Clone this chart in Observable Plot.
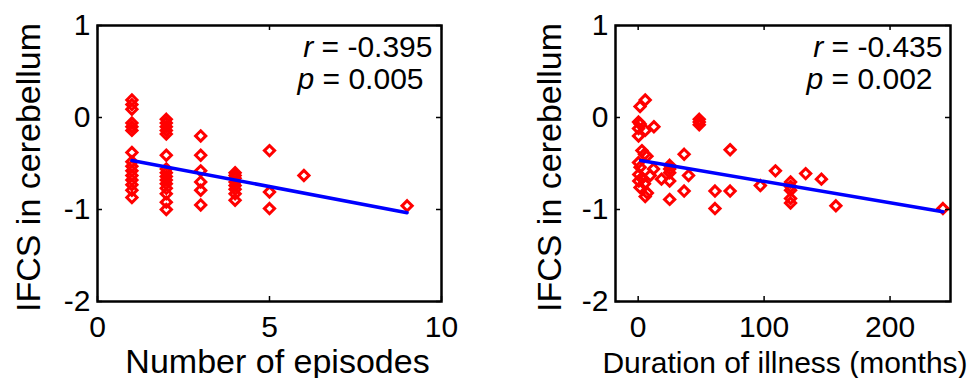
<!DOCTYPE html>
<html>
<head>
<meta charset="utf-8">
<script src="https://cdn.jsdelivr.net/npm/d3@7"></script>
<script src="https://cdn.jsdelivr.net/npm/@observablehq/plot@0.6"></script>
<style>
  html, body { margin: 0; padding: 0; background: #ffffff; }
  #wrap { position: relative; width: 974px; height: 378px; display: flex; overflow: hidden; }
  #wrap svg { display: block; flex: none; }
</style>
</head>
<body>
<div id="wrap"></div>
<script>
// ---- Panel A: number of episodes ----
const episodes = [
  1,1,1,1,1,1,1,1,1,1,1,1,1,1,1,
  2,2,2,2,2,2,2,2,2,2,2,2,2,2,2,
  3,3,3,3,3,3,
  4,4,4,4,4,4,4,4,
  5,5,5,
  6,
  9
];
const ifcsEpisodes = [
  0.19,0.14,0.09,-0.06,-0.10,-0.14,-0.38,-0.48,-0.53,-0.58,-0.63,-0.68,-0.73,-0.79,-0.87,
  -0.02,-0.06,-0.10,-0.14,-0.18,-0.41,-0.56,-0.60,-0.64,-0.68,-0.72,-0.77,-0.83,-0.92,-1.00,
  -0.20,-0.41,-0.58,-0.70,-0.79,-0.95,
  -0.60,-0.63,-0.66,-0.70,-0.74,-0.78,-0.83,-0.90,
  -0.36,-0.81,-0.99,
  -0.63,
  -0.96
];
const fitEpisodesX = [1, 9];
const fitEpisodesY = [-0.467, -1.035];

// ---- Panel B: duration of illness ----
const duration = [
  5.6,1.5,0.3,1.6,0.3,0.3,5.6,12.5,48.5,48.5,48.5,3,5,7,36.5,
  0.3,1.5,12.2,0.5,9.6,3,0.5,5,1.5,5.6,7.3,18.5,25,25,25,25,25,
  36.5,40,61,61,73,73,97,109,121,121,121,121,121,133,145.5,157,242
];
const ifcsDuration = [
  0.19,0.12,-0.05,-0.07,-0.12,-0.20,-0.14,-0.10,-0.02,-0.05,-0.08,-0.36,-0.40,-0.42,-0.40,
  -0.49,-0.54,-0.56,-0.62,-0.63,-0.66,-0.69,-0.72,-0.76,-0.86,-0.82,-0.67,-0.52,-0.56,-0.60,-0.69,-0.89,
  -0.80,-0.63,-0.80,-0.99,-0.35,-0.80,-0.74,-0.58,-0.70,-0.75,-0.79,-0.88,-0.93,-0.61,-0.67,-0.96,-0.99
];
const fitDurationX = [2, 242];
const fitDurationY = [-0.467, -1.025];

// ---- Axes / text ----
const yTicks = [-2, -1, 0, 1];
const episodesTicks = [0, 5, 10];
const durationTicks = [0, 100, 200];
const episodesDomain = [0, 10];
const durationDomain = [-18, 248];
const yDomain = [-2, 1];
const rValues = ["-0.395", "-0.435"];
const pValues = ["0.005", "0.002"];
const xLabels = ["Number of episodes", "Duration of illness (months)"];
const yLabel = "IFCS in cerebellum";

function panel(o) {
  const W = 487, H = 378, mt = 25, mb = 77;
  const ph = H - mt - mb, pw = W - o.marginLeft - o.marginRight;
  const pts = o.xs.map((x, i) => ({x, y: o.ys[i]}));
  const fit = o.fx.map((x, i) => ({x, y: o.fy[i]}));
  const fmt = d => String(d);
  const svg = Plot.plot({
    width: W, height: H,
    marginTop: mt, marginBottom: mb, marginLeft: o.marginLeft, marginRight: o.marginRight,
    x: {domain: o.xDomain},
    y: {domain: yDomain},
    style: {fontFamily: "'Liberation Sans', Arial, Helvetica, sans-serif", background: "#ffffff", color: "#000000", overflow: "visible"},
    marks: [
      Plot.dot(pts, {x: "x", y: "y", symbol: "diamond2", r: 4.6, stroke: "#ff0000", strokeWidth: 3, fill: "none"}),
      Plot.line(fit, {x: "x", y: "y", stroke: "#0000ff", strokeWidth: 3.5}),
      Plot.frame({stroke: "#000000", strokeWidth: 2.5}),
      Plot.tickX(o.xTicks, {x: d => d, insetTop: ph - 5, stroke: "#000000", strokeWidth: 1.5}),
      Plot.tickX(o.xTicks, {x: d => d, insetBottom: ph - 5, stroke: "#000000", strokeWidth: 1.5}),
      Plot.tickY(yTicks, {y: d => d, insetRight: pw - 5, stroke: "#000000", strokeWidth: 1.5}),
      Plot.tickY(yTicks, {y: d => d, insetLeft: pw - 5, stroke: "#000000", strokeWidth: 1.5}),
      Plot.axisX(o.xTicks, {tickSize: 0, tickPadding: 14, fontSize: 30, label: null, tickFormat: fmt}),
      Plot.axisY(yTicks, {tickSize: 0, tickPadding: 7, fontSize: 30, label: null, tickFormat: fmt}),
      Plot.text([o.r], {text: d => `r = ${d}`, frameAnchor: "top-right", textAnchor: "end", lineAnchor: "bottom", dx: o.rdx, dy: 31, fontSize: 30}),
      Plot.text([o.p], {text: d => `p = ${d}`, frameAnchor: "top-right", textAnchor: "end", lineAnchor: "bottom", dx: o.pdx, dy: 63, fontSize: 30}),
      Plot.text([o.xLabel], {text: d => d, frameAnchor: "bottom", lineAnchor: "bottom", dx: o.xLabelDx, dy: 71, fontSize: o.xLabelSize}),
      Plot.text([yLabel], {text: d => d, frameAnchor: "left", rotate: -90, textAnchor: "middle", lineAnchor: "middle", dx: o.yLabelDx, dy: 4, fontSize: 34})
    ]
  });
  // italicize the statistic symbols r and p
  svg.querySelectorAll("text").forEach(t => {
    const m = t.textContent.match(/^([rp]) (= .*)$/);
    if (m && t.children.length === 0) {
      t.textContent = "";
      const a = document.createElementNS("http://www.w3.org/2000/svg", "tspan");
      a.setAttribute("font-style", "italic");
      a.textContent = m[1];
      const b = document.createElementNS("http://www.w3.org/2000/svg", "tspan");
      b.textContent = " " + m[2];
      t.appendChild(a);
      t.appendChild(b);
    }
  });
  return svg;
}

const wrap = document.getElementById("wrap");
wrap.appendChild(panel({
  xs: episodes, ys: ifcsEpisodes, fx: fitEpisodesX, fy: fitEpisodesY,
  xTicks: episodesTicks, xDomain: episodesDomain,
  r: rValues[0], p: pValues[0], xLabel: xLabels[0], xLabelSize: 34, xLabelDx: 8,
  marginLeft: 97, marginRight: 46, rdx: -9, pdx: -18, yLabelDx: -68
}));
wrap.appendChild(panel({
  xs: duration, ys: ifcsDuration, fx: fitDurationX, fy: fitDurationY,
  xTicks: durationTicks, xDomain: durationDomain,
  r: rValues[1], p: pValues[1], xLabel: xLabels[1], xLabelSize: 30, xLabelDx: 2,
  marginLeft: 128, marginRight: 24, rdx: -8, pdx: -18, yLabelDx: -65
}));
</script>
</body>
</html>
